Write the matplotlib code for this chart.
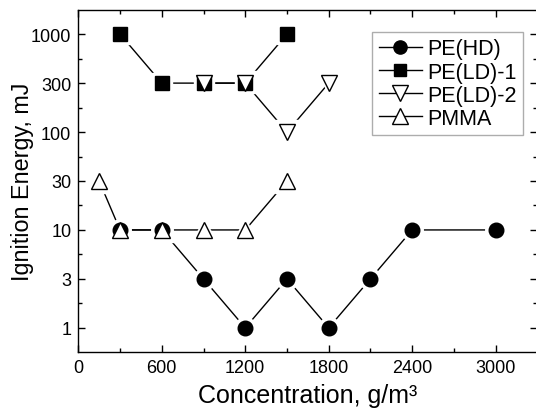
import numpy as np
import matplotlib
matplotlib.use("Agg")
import matplotlib.pyplot as plt
from matplotlib.lines import Line2D

plt.rcParams['font.family'] = ['Liberation Sans', 'DejaVu Sans']

# data
conc_hd = [300, 600, 900, 1200, 1500, 1800, 2100, 2400, 3000]
mie_hd = [10, 10, 3, 1, 3, 1, 3, 10, 10]
conc_ld1 = [300, 600, 900, 1200, 1500]
mie_ld1 = [1000, 300, 300, 300, 1000]
conc_ld2 = [900, 1200, 1500, 1800]
mie_ld2 = [300, 300, 100, 300]
conc_pmma = [150, 300, 600, 900, 1200, 1500]
mie_pmma = [30, 10, 10, 10, 10, 30]

y_ticks = [1, 3, 10, 30, 100, 300, 1000]
x_ticks = [0, 600, 1200, 1800, 2400, 3000]

L3 = np.log10(3)


# 1-3-10 steps are equally spaced on the original axis
def fwd(v):
    v = np.clip(np.asarray(v, dtype=float), 1e-12, None)
    lg = np.log10(v)
    d = np.floor(lg)
    fr = lg - d
    r = np.where(fr < L3, fr / L3, 1 + (fr - L3) / (1 - L3))
    return 2 * d + r


def inv(u):
    u = np.asarray(u, dtype=float)
    d = np.floor(u / 2)
    r = u - 2 * d
    fr = np.where(r < 1, r * L3, L3 + (r - 1) * (1 - L3))
    return 10 ** (d + fr)


fig = plt.figure(figsize=(5.36, 4.10), dpi=100)
ax = fig.add_axes([0.1461, 0.1383, 0.8565, 0.8356])
ax.set_yscale('function', functions=(fwd, inv))

series = [
    (conc_hd, mie_hd, 'o', 10.5, 'black', 'PE(HD)'),
    (conc_ld1, mie_ld1, 's', 9.5, 'black', 'PE(LD)-1'),
    (conc_ld2, mie_ld2, 'v', 12, 'white', 'PE(LD)-2'),
    (conc_pmma, mie_pmma, '^', 12, 'white', 'PMMA'),
]

handles = []
for x, y, m, ms, fc, lab in series:
    ax.plot(x, y, color='black', lw=1.0, zorder=1)
    # white halo leaves a small gap between line and marker
    ax.plot(x, y, ls='none', marker=m, ms=ms + 5, mfc='white', mec='white', zorder=2)
    ax.plot(x, y, ls='none', marker=m, ms=ms, mfc=fc, mec='black', mew=1.0,
            zorder=3 if fc == 'black' else 4)
    handles.append(Line2D([], [], color='black', lw=1.0, marker=m, ms=ms - 1,
                          mfc=fc, mec='black', mew=1.0))

ax.set_xlim(0, 3300)
ax.set_ylim(inv(-0.5), inv(6.5))
ax.set_xticks(x_ticks)
ax.set_xticks(np.arange(300, 3300, 600), minor=True)
ax.set_yticks(y_ticks)
ax.set_yticklabels([str(t) for t in y_ticks])
ax.set_yticks(inv(np.arange(0.5, 6, 1.0)), minor=True)
ax.yaxis.set_minor_formatter(matplotlib.ticker.NullFormatter())

ax.tick_params(which='both', direction='in', top=True, right=True, labelsize=13, width=1.0, pad=5)
ax.tick_params(which='major', length=5)
ax.tick_params(which='minor', length=3)
for s in ax.spines.values():
    s.set_linewidth(1.0)

ax.set_xlabel('Concentration, g/m³', fontsize=18, labelpad=5)
ax.set_ylabel('Ignition Energy, mJ', fontsize=16.8, labelpad=-2)

leg = ax.legend(handles, [s[5] for s in series], loc='upper right',
                bbox_to_anchor=(0.9757, 0.9195), bbox_transform=fig.transFigure,
                fontsize=15.5, frameon=True, fancybox=False, handlelength=2.0,
                handletextpad=0.25, borderpad=0.3, borderaxespad=0, labelspacing=0.1)
leg.get_frame().set_edgecolor('#999999')
leg.get_frame().set_linewidth(1.0)

fig.savefig('out.png', dpi=100)
